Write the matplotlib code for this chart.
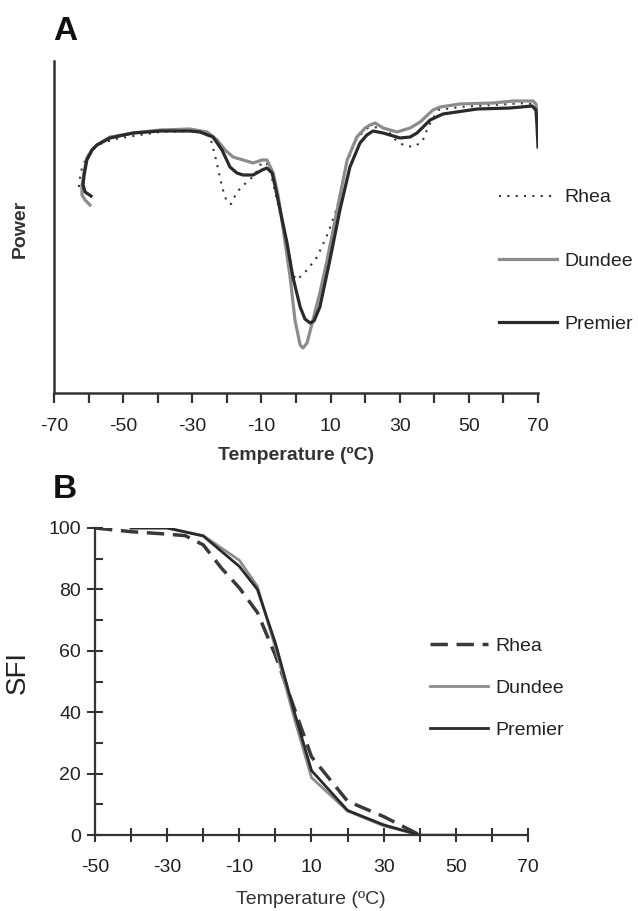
import matplotlib
matplotlib.use("Agg")
import matplotlib.pyplot as plt
from matplotlib.ticker import MultipleLocator

plt.rcParams['font.family'] = ['Liberation Sans', 'DejaVu Sans']
plt.rcParams['axes.unicode_minus'] = False

# ---------------- Panel A: DSC curves (arbitrary power units) ----------------
premier_T = [-59.3, -61.0, -61.6, -61.3, -60.5, -59.0, -57.6, -53.8, -47.1, -39.3,
             -30.7, -27.8, -24.0, -21.4, -19.1, -17.1, -15.3, -12.4, -9.8, -8.4,
             -6.9, -5.8, -4.6, -2.6, -0.9, 1.2, 2.6, 4.1, 5.2, 6.9,
             9.8, 12.7, 15.6, 18.5, 20.5, 22.3, 25.2, 30.1, 33.0, 35.0,
             38.8, 42.5, 52.4, 61.9, 68.3, 69.4, 69.7, 70.0]
premier_P = [197, 201, 208, 218, 233, 243, 248, 255, 260, 262,
             262, 261, 256, 243, 226, 220, 218, 218, 223, 225,
             220, 203, 183, 150, 116, 86, 74, 70, 72, 86,
             133, 183, 226, 250, 258, 262, 260, 255, 256, 260,
             273, 279, 284, 285, 287, 283, 268, 246]

dundee_T = [-59.6, -61.0, -61.9, -61.9, -61.3, -60.5, -59.0, -57.6, -53.8, -47.1,
            -39.3, -30.7, -25.7, -22.8, -20.5, -18.2, -15.3, -12.4, -9.8, -8.4,
            -6.6, -5.2, -3.8, -1.7, -0.3, 1.2, 2.0, 3.2, 4.9, 6.9,
            9.0, 11.9, 14.8, 17.6, 20.0, 21.4, 22.9, 25.2, 29.2, 33.0,
            35.9, 39.6, 41.7, 47.4, 57.0, 62.8, 68.6, 69.4, 70.0]
dundee_P = [188, 193, 198, 208, 221, 235, 243, 248, 256, 260,
            263, 264, 261, 253, 243, 236, 233, 230, 233, 233,
            220, 198, 166, 116, 73, 48, 45, 50, 73, 100,
            133, 183, 233, 256, 265, 268, 270, 265, 261, 265,
            271, 283, 286, 289, 290, 292, 292, 289, 275]

rhea_T = [-62.8, -62.5, -61.9, -60.7, -59.0, -56.7, -52.4, -47.1, -39.3, -30.7,
          -26.3, -24.6, -23.1, -21.4, -20.0, -18.8, -17.1, -14.2, -11.9, -10.4,
          -8.7, -7.5, -5.5, -2.6, -0.9, 0.3, 3.2, 6.1, 9.3, 11.9,
          14.8, 17.6, 20.8, 24.3, 26.3, 28.1, 31.0, 33.8, 36.5, 38.2,
          41.1, 47.4, 57.0, 66.8, 69.1]
rhea_P = [206, 215, 225, 235, 243, 249, 254, 257, 261, 262,
          260, 253, 233, 206, 191, 189, 201, 211, 218, 228,
          231, 223, 193, 150, 118, 113, 123, 136, 160, 186,
          231, 255, 265, 266, 264, 255, 248, 246, 251, 266,
          283, 286, 288, 290, 288]

# ---------------- Panel B: solid fat index ----------------
sfi_rhea_T = [-50, -40, -30, -25, -20, -15, -10, -5, 0, 5, 10, 20, 30, 40]
sfi_rhea = [100, 98.8, 98, 97.5, 94.5, 87, 80.5, 72.5, 58.5, 42, 25.5, 11, 6, 0]

sfi_dundee_T = [-40, -30, -20, -10, -5, 0, 5, 10, 20, 30, 40, 50]
sfi_dundee = [100, 100, 97.5, 89.5, 81, 61, 39, 18.7, 7.8, 3, 0, 0]

sfi_premier_T = [-40, -30, -20, -10, -5, 0, 5, 10, 20, 30, 40]
sfi_premier = [100, 100, 97.4, 87.5, 80, 62.5, 41, 21, 8, 3.3, 0]

labels = ["Rhea", "Dundee", "Premier"]

W, H = 638, 911
fig = plt.figure(figsize=(W / 100, H / 100), dpi=100)

def fx(px):
    return px / W

def fy(py):
    return 1 - py / H

spine_c = '#333333'
dark = '#2a2a2a'
grey = '#8c8c8c'

# ---------- Panel A ----------
axA = fig.add_axes([fx(54), fy(393), fx(538) - fx(54), fy(61) - fy(393)])
axA.plot(rhea_T, rhea_P, color='#333333', lw=1.5, linestyle=(0, (1, 3)), label=labels[0])
axA.plot(dundee_T, dundee_P, color=grey, lw=2.3, label=labels[1])
axA.plot(premier_T, premier_P, color=dark, lw=2.3, label=labels[2])
axA.set_xlim(-70, 70)
axA.set_ylim(0, 332)
for s in ['top', 'right']:
    axA.spines[s].set_visible(False)
for s in ['left', 'bottom']:
    axA.spines[s].set_color(spine_c)
    axA.spines[s].set_linewidth(1.8)
axA.set_yticks([])
axA.xaxis.set_major_locator(MultipleLocator(20))
axA.xaxis.set_minor_locator(MultipleLocator(10))
axA.set_xticks(range(-70, 71, 20))
axA.tick_params(axis='x', which='both', direction='out', length=7, width=1.6,
                color=spine_c, labelsize=14, labelcolor='#222222', pad=11)
axA.patch.set_alpha(0)

fig.text(fx(296), fy(455), "Temperature (ºC)", ha='center', va='center',
         fontsize=14, fontweight='bold', color='#333333')
fig.text(fx(20), fy(229), "Power", ha='center', va='center', rotation=90,
         fontsize=14, fontweight='bold', color='#333333')
fig.text(fx(53), fy(31), "A", ha='left', va='center', fontsize=24,
         fontweight='bold', color='#111111')

legA = axA.legend(loc='center left', bbox_to_anchor=(fx(499), fy(261)),
                  bbox_transform=fig.transFigure, frameon=False, fontsize=14,
                  handlelength=3.0, handletextpad=0.35, labelspacing=2.35,
                  borderpad=0, borderaxespad=0)
for t in legA.get_texts():
    t.set_color('#222222')

# ---------- Panel B ----------
axB = fig.add_axes([fx(95), fy(835), fx(528) - fx(95), fy(528) - fy(835)])
axB.plot(sfi_rhea_T, sfi_rhea, color='#3a3a3a', lw=2.5, linestyle=(0, (5, 2.5)),
         label=labels[0])
axB.plot(sfi_dundee_T, sfi_dundee, color=grey, lw=2.0, label=labels[1])
axB.plot(sfi_premier_T, sfi_premier, color=dark, lw=2.0, label=labels[2])
axB.set_xlim(-50, 70)
axB.set_ylim(0, 100)
for s in ['top', 'right']:
    axB.spines[s].set_visible(False)
for s in ['left', 'bottom']:
    axB.spines[s].set_color(spine_c)
    axB.spines[s].set_linewidth(1.6)
axB.xaxis.set_major_locator(MultipleLocator(20))
axB.xaxis.set_minor_locator(MultipleLocator(10))
axB.set_xticks(range(-50, 71, 20))
axB.yaxis.set_major_locator(MultipleLocator(20))
axB.yaxis.set_minor_locator(MultipleLocator(10))
axB.tick_params(axis='x', which='both', direction='inout', length=10, width=1.5,
                color=spine_c, labelsize=14, labelcolor='#222222', pad=12)
axB.tick_params(axis='y', which='major', direction='inout', length=12, width=1.5,
                color=spine_c, labelsize=14, labelcolor='#222222', pad=4)
axB.tick_params(axis='y', which='minor', direction='in', length=6, width=1.5,
                color=spine_c)
axB.patch.set_alpha(0)
for sp in axB.spines.values():
    sp.set_clip_on(False)

fig.text(fx(311), fy(900), "Temperature (ºC)", ha='center', va='center',
         fontsize=14, color='#333333')
fig.text(fx(18), fy(672), "SFI", ha='center', va='center', rotation=90,
         fontsize=20, color='#222222')
fig.text(fx(53), fy(490), "B", ha='left', va='center', fontsize=24,
         fontweight='bold', color='#111111')

legB = axB.legend(loc='center left', bbox_to_anchor=(fx(430), fy(688)),
                  bbox_transform=fig.transFigure, frameon=False, fontsize=14,
                  handlelength=3.0, handletextpad=0.35, labelspacing=1.25,
                  borderpad=0, borderaxespad=0)
for t in legB.get_texts():
    t.set_color('#222222')

fig.savefig("out.png", dpi=100)
